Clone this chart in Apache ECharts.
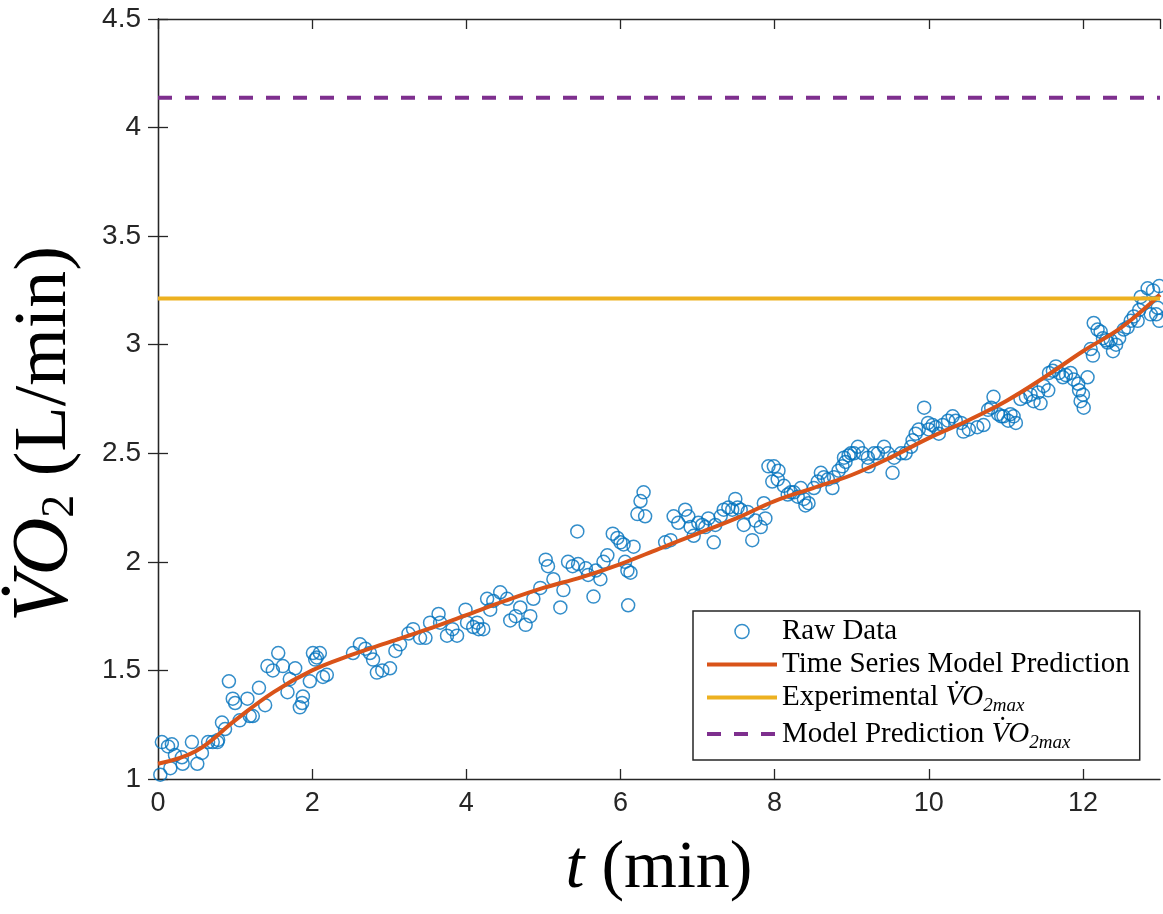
<!DOCTYPE html>
<html>
<head>
<meta charset="utf-8">
<script src="https://cdn.jsdelivr.net/npm/echarts@6/dist/echarts.min.js"></script>
<style>html,body{margin:0;padding:0;background:#fff}#c{width:1163px;height:914px}</style>
</head>
<body>
<div id="c"></div>
<script>
// Raw data (time in min, VO2 in L/min)
const rawTime = [0.03,0.05,0.13,0.16,0.18,0.22,0.31,0.32,0.44,0.51,0.57,0.65,0.71,0.77,0.78,0.83,0.87,0.92,0.97,1.00,1.06,1.16,1.19,1.23,1.31,1.39,1.42,1.49,1.56,1.62,1.68,1.71,1.78,1.84,1.87,1.88,1.97,2.01,2.04,2.06,2.10,2.14,2.19,2.53,2.62,2.69,2.75,2.79,2.84,2.91,3.01,3.08,3.14,3.25,3.31,3.40,3.47,3.53,3.64,3.66,3.75,3.82,3.88,3.99,4.01,4.09,4.14,4.16,4.22,4.27,4.31,4.35,4.44,4.53,4.57,4.64,4.70,4.77,4.83,4.87,4.96,5.03,5.06,5.13,5.22,5.26,5.32,5.38,5.44,5.45,5.55,5.58,5.65,5.68,5.74,5.78,5.83,5.90,5.96,6.00,6.04,6.06,6.09,6.10,6.13,6.17,6.22,6.26,6.30,6.32,6.58,6.65,6.69,6.75,6.84,6.88,6.91,6.95,7.01,7.06,7.10,7.14,7.21,7.23,7.30,7.34,7.40,7.45,7.49,7.52,7.56,7.60,7.65,7.71,7.75,7.82,7.86,7.88,7.92,7.97,7.99,8.04,8.05,8.12,8.17,8.21,8.25,8.30,8.34,8.38,8.40,8.44,8.51,8.56,8.60,8.64,8.69,8.75,8.77,8.83,8.88,8.90,8.92,8.96,8.99,9.03,9.08,9.14,9.21,9.22,9.29,9.34,9.42,9.47,9.53,9.55,9.64,9.70,9.77,9.79,9.83,9.87,9.94,9.99,10.00,10.05,10.09,10.13,10.18,10.25,10.31,10.35,10.42,10.45,10.52,10.63,10.71,10.77,10.81,10.84,10.90,10.94,10.97,11.03,11.06,11.10,11.13,11.19,11.26,11.32,11.36,11.42,11.45,11.49,11.55,11.56,11.61,11.65,11.69,11.74,11.78,11.84,11.88,11.94,11.95,11.97,12.00,12.01,12.06,12.10,12.13,12.14,12.19,12.23,12.26,12.30,12.32,12.36,12.39,12.43,12.47,12.53,12.58,12.62,12.66,12.71,12.73,12.75,12.79,12.84,12.88,12.91,12.95,12.97,12.99,12.99];
const rawVO2 = [1.02,1.17,1.15,1.05,1.16,1.11,1.10,1.07,1.17,1.07,1.12,1.17,1.17,1.17,1.18,1.26,1.23,1.45,1.37,1.35,1.27,1.37,1.29,1.29,1.42,1.34,1.52,1.50,1.58,1.52,1.40,1.46,1.51,1.33,1.35,1.38,1.45,1.58,1.55,1.56,1.58,1.47,1.48,1.58,1.62,1.60,1.58,1.55,1.49,1.50,1.51,1.59,1.62,1.67,1.69,1.65,1.65,1.72,1.76,1.72,1.66,1.69,1.66,1.78,1.72,1.70,1.72,1.69,1.69,1.83,1.78,1.82,1.86,1.83,1.73,1.75,1.79,1.71,1.75,1.83,1.88,2.01,1.98,1.92,1.79,1.87,2.00,1.98,2.14,1.99,1.97,1.94,1.84,1.96,1.92,2.00,2.03,2.13,2.11,2.09,2.08,2.00,1.96,1.80,1.95,2.07,2.22,2.28,2.32,2.21,2.09,2.10,2.21,2.18,2.24,2.21,2.16,2.12,2.18,2.17,2.16,2.20,2.09,2.17,2.21,2.24,2.25,2.24,2.29,2.25,2.24,2.17,2.23,2.10,2.19,2.16,2.27,2.20,2.44,2.37,2.44,2.38,2.42,2.35,2.31,2.32,2.32,2.30,2.34,2.29,2.26,2.27,2.34,2.37,2.41,2.39,2.38,2.34,2.39,2.42,2.44,2.48,2.46,2.49,2.50,2.50,2.53,2.50,2.48,2.44,2.50,2.50,2.53,2.50,2.41,2.48,2.50,2.50,2.53,2.56,2.59,2.61,2.71,2.64,2.61,2.63,2.62,2.59,2.63,2.65,2.67,2.65,2.64,2.60,2.61,2.62,2.63,2.70,2.71,2.76,2.68,2.67,2.67,2.65,2.68,2.67,2.64,2.75,2.76,2.77,2.74,2.78,2.73,2.81,2.79,2.87,2.88,2.90,2.87,2.85,2.86,2.87,2.84,2.82,2.79,2.74,2.77,2.71,2.85,2.98,2.95,3.10,3.07,3.06,3.03,3.02,3.01,3.02,2.97,3.00,3.03,3.07,3.08,3.11,3.13,3.11,3.16,3.22,3.19,3.26,3.14,3.25,3.14,3.17,3.27,3.11];

// Time series model prediction
const modelTime = [0,0.5,1,1.5,2,2.5,3,3.5,4,4.5,5,5.5,6,6.5,7,7.5,8,8.5,9,9.5,10,10.5,11,11.5,12,12.5,13];
const modelVO2 = [1.07,1.13,1.27,1.40,1.50,1.57,1.63,1.69,1.755,1.82,1.88,1.93,1.99,2.06,2.13,2.20,2.28,2.34,2.40,2.48,2.57,2.65,2.74,2.85,2.97,3.08,3.23];

// VO2max levels
const expVO2max = 3.213;
const predVO2max = 4.137;
const xRange = [0, 13];

// Ticks
const xTicks = [0,2,4,6,8,10,12];
const yTicks = [1,1.5,2,2.5,3,3.5,4,4.5];

const rawData = rawTime.map((t,i)=>[t, rawVO2[i]]);
const modelData = modelTime.map((t,i)=>[t, modelVO2[i]]);

const AX = '#262626';
const serif = "'Liberation Serif','DejaVu Serif',serif";
const sans = "'Liberation Sans','DejaVu Sans',sans-serif";

const legendRich = {
  n: {fontFamily: serif, fontSize: 29, color: '#000', lineHeight: 36},
  v: {fontFamily: serif, fontStyle: 'italic', fontSize: 29, color: '#000', lineHeight: 36},
  s: {fontFamily: serif, fontStyle: 'italic', fontSize: 19, color: '#000', lineHeight: 20, verticalAlign: 'bottom'}
};
const legendLabels = {
  'Raw Data': '{n|Raw Data}',
  'Time Series Model Prediction': '{n|Time Series Model Prediction}',
  'Experimental VO2max': '{n|Experimental }{v|V\u0307O}{s|2max}',
  'Model Prediction VO2max': '{n|Model Prediction }{v|V\u0307O}{s|2max}'
};
const noSym = {color: 'rgba(0,0,0,0)', borderWidth: 0, opacity: 0};

const chart = echarts.init(document.getElementById('c'), null, {renderer: 'canvas'});
chart.setOption({
  animation: false,
  backgroundColor: '#fff',
  grid: {left: 158, top: 19, width: 1002, height: 760, containLabel: false, outerBoundsMode: 'none'},
  xAxis: [{
    type: 'value', min: xRange[0], max: xRange[1], interval: 2,
    name: '{i|t}{n|\u00a0(min)}', nameLocation: 'middle', nameGap: 56,
    nameTextStyle: {rich: {
      i: {fontFamily: serif, fontStyle: 'italic', fontSize: 68, color: '#000'},
      n: {fontFamily: serif, fontSize: 68, color: '#000'}
    }},
    axisLine: {lineStyle: {color: AX, width: 1.3}},
    axisTick: {inside: true, length: 10, lineStyle: {color: AX, width: 1.3}},
    axisLabel: {fontFamily: sans, fontSize: 27, color: AX, margin: 11, showMaxLabel: false,
      formatter: v => xTicks.includes(v) ? String(v) : ''},
    splitLine: {show: false}
  }, {
    type: 'value', position: 'top', min: xRange[0], max: xRange[1], interval: 2,
    axisLine: {show: true, lineStyle: {color: AX, width: 1.3}},
    axisTick: {show: true, inside: true, length: 10, lineStyle: {color: AX, width: 1.3}},
    axisLabel: {show: false}, splitLine: {show: false}
  }],
  yAxis: [{
    type: 'value', min: 1, max: 4.5, interval: 0.5,
    name: '{v|V\u0307O}{s|2}{n|\u00a0(L/min)}', nameLocation: 'middle', nameGap: 74, nameRotate: 90,
    nameTextStyle: {padding: [0, 70, 0, 0], rich: {
      v: {fontFamily: serif, fontStyle: 'italic', fontSize: 80, color: '#000', lineHeight: 76},
      s: {fontFamily: serif, fontSize: 46, color: '#000', lineHeight: 46, verticalAlign: 'bottom'},
      n: {fontFamily: serif, fontSize: 74, color: '#000', lineHeight: 76}
    }},
    axisLine: {lineStyle: {color: AX, width: 1.3}},
    axisTick: {inside: true, length: 10, lineStyle: {color: AX, width: 1.3}},
    axisLabel: {fontFamily: sans, fontSize: 28, color: AX, margin: 17,
      formatter: v => yTicks.includes(v) ? String(v) : ''},
    splitLine: {show: false}
  }, {
    type: 'value', position: 'right', min: 1, max: 4.5, interval: 0.5,
    axisLine: {show: true, lineStyle: {color: AX, width: 1.3}},
    axisTick: {show: true, inside: true, length: 10, lineStyle: {color: AX, width: 1.3}},
    axisLabel: {show: false}, splitLine: {show: false}
  }],
  legend: {
    orient: 'vertical', left: 693, top: 611,
    padding: [6, 10, 8, 12], itemGap: 4, itemWidth: 70, itemHeight: 14,
    backgroundColor: '#fff', borderColor: AX, borderWidth: 1.5, borderRadius: 0,
    textStyle: {rich: legendRich, fontFamily: serif, fontSize: 29, color: '#000'},
    formatter: name => legendLabels[name],
    data: [
      {name: 'Raw Data', icon: 'circle', itemStyle: {color: 'rgba(0,0,0,0)', borderColor: '#0072BD', borderWidth: 1.5}},
      {name: 'Time Series Model Prediction', itemStyle: noSym, lineStyle: {width: 4}},
      {name: 'Experimental VO2max', itemStyle: noSym, lineStyle: {width: 4}},
      {name: 'Model Prediction VO2max', itemStyle: noSym, lineStyle: {width: 4}}
    ]
  },
  series: [{
    name: 'Raw Data', type: 'scatter', data: rawData, symbol: 'circle', symbolSize: 13,
    itemStyle: {color: 'rgba(0,0,0,0)', borderColor: '#0072BD', borderWidth: 1.5}, z: 2
  }, {
    name: 'Time Series Model Prediction', type: 'line', data: modelData, smooth: 0.4,
    symbol: 'none', lineStyle: {color: '#D95319', width: 4}, itemStyle: {color: '#D95319'}, z: 3
  }, {
    name: 'Experimental VO2max', type: 'line', data: [[xRange[0], expVO2max], [xRange[1], expVO2max]],
    symbol: 'none', lineStyle: {color: '#EDB120', width: 4}, itemStyle: {color: '#EDB120'}, z: 4
  }, {
    name: 'Model Prediction VO2max', type: 'line', data: [[xRange[0], predVO2max], [xRange[1], predVO2max]],
    symbol: 'none', lineStyle: {color: '#7E2F8E', width: 4, type: [14, 13]}, itemStyle: {color: '#7E2F8E'}, z: 4
  }]
});
</script>
</body>
</html>
